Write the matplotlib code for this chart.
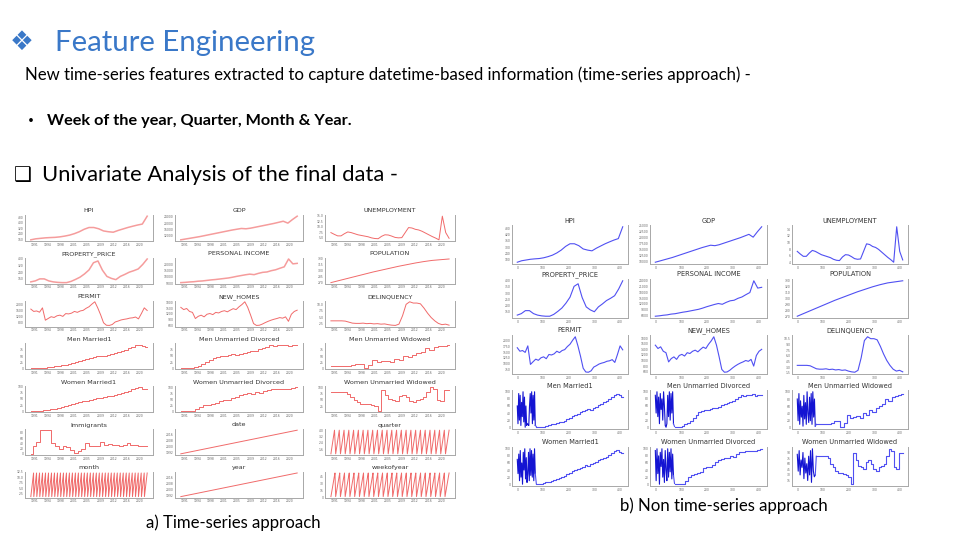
import numpy as np
import matplotlib
matplotlib.use('Agg')
import matplotlib.pyplot as plt

W, H = 960, 540

# ---- data (rough units) ----
hpi = [157, 171, 178, 185, 189, 192, 199, 210, 224, 245, 272, 307, 332, 332, 314, 283,
       272, 265, 290, 311, 332, 350, 367, 381, 493]
gdp = [9500, 10000, 10500, 11000, 11500, 12100, 12700, 13300, 13900, 14500, 15100, 15700,
       16200, 16700, 16500, 16900, 17500, 18100, 18700, 19300, 19900, 20600, 21300, 20100,
       22400, 24500]
unemployment = [7.3, 6.5, 5.8, 5.8, 6.8, 7.6, 7.3, 6.8, 6.3, 6.0, 5.7, 5.4, 4.9, 4.6, 4.5,
                5.6, 6.3, 6.2, 5.7, 5.1, 4.9, 5.0, 7.3, 9.6, 9.4, 8.8, 8.5, 7.9, 7.1, 6.3,
                5.5, 4.8, 4.0, 14.8, 7.3, 4.7]
property_price = [124, 136, 160, 160, 136, 124, 118, 115, 115, 130, 154, 181, 220, 268, 355,
                  376, 265, 190, 166, 151, 190, 214, 241, 259, 280, 334, 400]
personal_income = [5600, 5800, 6100, 6300, 6700, 6900, 7300, 7700, 8000, 8400, 8800, 9200,
                   9800, 10500, 11100, 11700, 12200, 11800, 12800, 13600, 13900, 14900, 15600,
                   16800, 17900, 24000, 20200, 20600]
population = [270, 275.4, 280.8, 286.2, 291.6, 297, 301.8, 306.6, 311.4, 315.6, 319.8, 323.4,
              326.4, 328.2, 330]
permit = [1690, 1540, 1570, 1490, 1770, 975, 1090, 1200, 1150, 1260, 1300, 1220, 1400, 1380,
          1430, 1540, 1480, 1570, 1610, 1740, 1840, 2010, 2160, 1770, 1320, 810, 650, 640, 700,
          860, 920, 990, 1030, 1060, 1110, 1130, 1180, 1060, 1400, 1770, 1600]
new_homes = [1550, 1430, 1490, 1330, 1280, 950, 1070, 1130, 1040, 1180, 1220, 1160, 1280, 1250,
             1330, 1370, 1310, 1400, 1480, 1430, 1580, 1700, 1850, 1550, 1130, 680, 580, 590,
             650, 730, 800, 860, 910, 950, 1000, 970, 1040, 800, 1180, 1330, 1400]
delinquency = [3.5, 3.5, 3.5, 3.5, 3.4, 3.0, 2.6, 2.5, 2.5, 2.6, 2.4, 2.5, 2.3, 2.4, 2.2, 2.3,
               2.0, 1.8, 1.7, 2.2, 5.5, 10.0, 11.0, 10.5, 10.5, 10.2, 8.5, 6.5, 4.8, 3.5, 2.5,
               2.0, 2.2, 1.8]
men_married = [2, 2, 2, 2, 3, 6, 8, 10, 12, 14, 15, 18, 22, 25, 32, 35, 38, 42, 46, 50, 52, 50,
               55, 58, 62, 66, 70, 75, 80, 86, 92, 95, 90, 85]
men_divorced = [2, 2, 2, 3, 8, 12, 18, 25, 35, 42, 45, 48, 50, 52, 55, 53, 58, 62, 66, 68, 70,
                75, 80, 85, 90, 88, 92, 90, 93, 87, 90, 90]
men_widowed = [10, 10, 10, 10, 12, 15, 18, 20, 2, 15, 35, 28, 30, 32, 28, 40, 35, 50, 45, 55,
               60, 65, 80, 75, 85, 88, 90, 95]
women_married = [2, 2, 2, 3, 5, 7, 9, 12, 15, 17, 20, 24, 28, 32, 36, 40, 43, 46, 50, 55, 52,
                 56, 60, 63, 67, 70, 74, 78, 83, 88, 93, 96, 90, 88]
women_divorced = [2, 2, 2, 2, 10, 20, 25, 28, 32, 35, 45, 48, 48, 55, 62, 68, 72, 75, 74, 80,
                  78, 85, 90, 92, 95, 93, 95, 93, 96, 100]
women_widowed = [80, 80, 80, 80, 80, 75, 60, 50, 40, 35, 35, 33, 30, 25, 5, 90, 70, 55, 50, 45,
                 65, 70, 60, 45, 40, 50, 55, 60, 80, 100, 95, 50, 45, 90, 90]
immigrants = [0, 30, 45, 90, 90, 90, 40, 30, 20, 30, 25, 15, 5, 10, 20, 40, 30, 30, 30, 45, 35,
              38, 35, 33, 30, 32, 40, 35, 32, 30, 30, 30]
years = list(range(1990, 2023))
quarter_cycle = [1, 2, 3, 4]
month_cycle = [1, 2, 3, 4, 5, 6, 7, 8, 9, 10, 11, 12]
week_cycle = [1, 9, 18, 27, 36, 44, 52]

# unsorted rows at the start of the non time-series frame
men_married_noise = [60, 10, 95, 20, 90, 5, 70, 30, 100, 15, 85, 0, 60, 5, 10, 8, 5, 60, 95,
                     40, 100, 10, 90, 20, 100, 5]
men_divorced_noise = [90, 40, 100, 30, 85, 10, 95, 50, 80, 20, 100, 60, 5, 0, 10, 90, 30, 100,
                      20, 95, 40, 100, 10]
men_widowed_noise = [80, 20, 95, 10, 75, 30, 60, 5, 90, 25, 70, 10, 100, 40, 15, 85, 20, 95,
                     10, 100, 30, 80, 5]
women_married_noise = [70, 30, 85, 10, 95, 20, 60, 0, 90, 40, 100, 15, 75, 5, 30, 90, 10, 100,
                       25, 95, 20, 85, 10, 100, 30]
women_divorced_noise = [95, 10, 100, 30, 80, 0, 90, 50, 100, 20, 70, 5, 95, 40, 10, 100, 20,
                        90, 35, 100, 15, 85, 25]
women_widowed_noise = [85, 40, 95, 30, 70, 50, 90, 20, 75, 35, 60, 15, 80, 30, 95, 10, 100, 40,
                       25, 30]

left_titles = [['HPI', 'GDP', 'UNEMPLOYMENT'],
               ['PROPERTY_PRICE', 'PERSONAL INCOME', 'POPULATION'],
               ['PERMIT', 'NEW_HOMES', 'DELINQUENCY'],
               ['Men Married1', 'Men Unmarried Divorced', 'Men Unmarried Widowed'],
               ['Women Married1', 'Women Unmarried Divorced', 'Women Unmarried Widowed'],
               ['Immigrants', 'date', 'quarter'],
               ['month', 'year', 'weekofyear']]

T0, T1 = 1990, 2022
RED = '#ef5a5a'
BLUE = '#5050f2'
DARKBLUE = '#1414d2'

fig = plt.figure(figsize=(9.6, 5.4), dpi=100)
fig.patch.set_facecolor('white')
renderer = fig.canvas.get_renderer()


def add_ax(x0, y0, x1, y1):
    ax = fig.add_axes([x0 / W, 1 - y1 / H, (x1 - x0) / W, (y1 - y0) / H])
    for s in ['left', 'bottom', 'right']:
        ax.spines[s].set_color('#a8a8a8')
        ax.spines[s].set_linewidth(0.7)
    ax.spines['top'].set_visible(False)
    ax.tick_params(length=0, labelsize=2.2, labelcolor='#666', pad=1.2)
    ax.yaxis.set_major_locator(plt.MaxNLocator(5))
    return ax


def put(xpx, ypx, s, width, ha='left', **kw):
    t = fig.text(xpx / W, 1 - ypx / H, s, ha=ha, va='center', fontsize=10, **kw)
    w = t.get_window_extent(renderer).width
    t.set_fontsize(10 * width / w)
    return t


# ---- slide text ----
put(10, 43, '\u2756', 24, color='#3a78c8', family=['DejaVu Sans'])
put(55, 43, 'Feature Engineering', 260, color='#3a78c8', family=['Lato'])
put(25, 75, 'New time-series features extracted to capture datetime-based information '
    '(time-series approach) -', 725, color='black', family=['Lato'])
put(28, 121, '\u2022', 6, color='black', family=['Lato'])
put(47, 121, 'Week of the year, Quarter, Month & Year.', 306, color='black',
    family=['Lato'], fontweight='bold')
put(14, 175, '\u2751', 18, color='black', family=['DejaVu Sans'])
put(42, 175, 'Univariate Analysis of the final data -', 356, color='black', family=['Lato'])
put(146, 523, 'a) Time-series approach', 175, color='black', family=['Lato'])
put(620, 506, 'b) Non time-series approach', 209, color='black', family=['Lato'])

# ---- left grid: time-series approach ----
left_data = [[hpi, gdp, unemployment],
             [property_price, personal_income, population],
             [permit, new_homes, delinquency],
             [men_married, men_divorced, men_widowed],
             [women_married, women_divorced, women_widowed],
             [immigrants, None, quarter_cycle * 25],
             [month_cycle * 39, years, week_cycle * 25]]
steps = {'Men Married1', 'Men Unmarried Divorced', 'Men Unmarried Widowed', 'Women Married1',
         'Women Unmarried Divorced', 'Women Unmarried Widowed', 'Immigrants'}
lcols = [(25, 153), (175, 303), (325, 455)]
xt = np.linspace(1991, 2020, 9)
for r in range(7):
    y0 = 215 + 42.8 * r
    for c in range(3):
        ax = add_ax(lcols[c][0], y0, lcols[c][1], y0 + 26)
        title = left_titles[r][c]
        vals = left_data[r][c]
        if title == 'date':
            x = np.array([T0, T1])
            vals = x
        else:
            x = np.linspace(T0, T1, len(vals))
        ds = 'steps-mid' if title in steps else 'default'
        lw = 1.1 if title in ('HPI', 'GDP', 'PROPERTY_PRICE', 'PERSONAL INCOME') else 0.7
        al = 0.6 if lw > 1 else 0.9
        ax.plot(x, vals, color=RED, lw=lw, alpha=al, drawstyle=ds)
        ax.set_xticks(xt)
        ax.set_xticklabels([str(int(v)) for v in xt])
        ax.set_title(title, fontsize=4.6, color='#333', pad=1.8)

# ---- right grid: non time-series approach ----
right_titles = left_titles[:5]
right_data = [[hpi, gdp, unemployment],
              [property_price, personal_income, population],
              [permit, new_homes, delinquency],
              [(men_married_noise, men_married), (men_divorced_noise, men_divorced),
               (men_widowed_noise, men_widowed)],
              [(women_married_noise, women_married), (women_divorced_noise, women_divorced),
               (women_widowed_noise, women_widowed)]]
rcols = [(512, 628), (650, 767), (792, 908)]
rtops = [225, 279, 335, 390, 447]
for r in range(5):
    for c in range(3):
        ax = add_ax(rcols[c][0], rtops[r], rcols[c][1], rtops[r] + 39)
        vals = right_data[r][c]
        if isinstance(vals, tuple):
            noise, rest = vals
            ax.plot(np.linspace(0, 70, len(noise)), noise, color=DARKBLUE, lw=0.8)
            ax.plot([70, 74], [noise[-1], rest[0]], color=BLUE, lw=0.8)
            ax.plot(np.linspace(74, 410, len(rest)), rest, color=BLUE, lw=0.8,
                    drawstyle='steps-mid')
        else:
            ax.plot(np.linspace(0, 410, len(vals)), vals, color=BLUE, lw=0.8)
        ax.set_xticks([0, 100, 200, 300, 400])
        ax.yaxis.set_major_locator(plt.MaxNLocator(7))
        ax.set_title(right_titles[r][c], fontsize=4.8, color='#333', pad=1.8)

fig.savefig('out.png', dpi=100)
